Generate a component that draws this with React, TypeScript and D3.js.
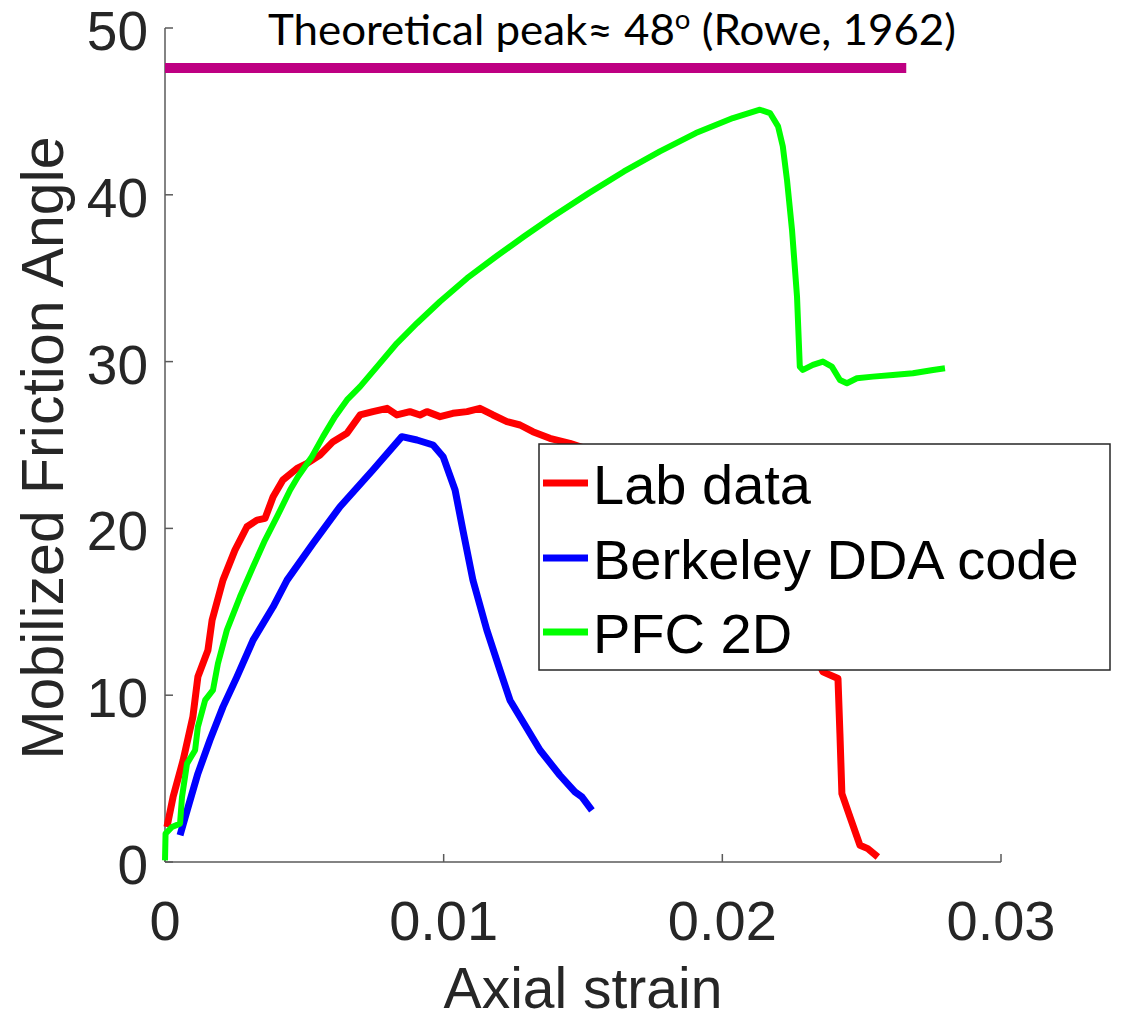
import React from "react";
import * as d3 from "d3";

const xTicks = [0, 0.01, 0.02, 0.03];
const xTickLabels = ["0", "0.01", "0.02", "0.03"];
const yTicks = [0, 10, 20, 30, 40, 50];
const yTickLabels = ["0", "10", "20", "30", "40", "50"];

const seriesNames = ["Lab data", "Berkeley DDA code", "PFC 2D"];
const seriesColors = ["#ff0000", "#0000ff", "#00ff00"];

const labStrain = [0.00007, 0.00029, 0.00065, 0.001, 0.00118, 0.00154, 0.00169, 0.00208, 0.00251, 0.00294, 0.0033, 0.00359, 0.00388, 0.00423, 0.00474, 0.0051, 0.00556, 0.00603, 0.00653, 0.007, 0.00746, 0.00797, 0.00832, 0.00879, 0.00915, 0.0094, 0.00987, 0.01033, 0.01084, 0.0113, 0.01177, 0.01227, 0.01274, 0.0132, 0.01381, 0.01453, 0.0165, 0.0185, 0.0205, 0.0225, 0.0233, 0.02361, 0.02415, 0.02422, 0.02429, 0.02458, 0.02494, 0.02522, 0.02558];
const labAngle = [2.1, 3.9, 6.1, 8.7, 11.1, 12.7, 14.5, 16.9, 18.7, 20.1, 20.5, 20.6, 21.9, 22.9, 23.6, 23.9, 24.4, 25.2, 25.7, 26.8, 27.0, 27.2, 26.8, 27.0, 26.8, 27.0, 26.7, 26.9, 27.0, 27.2, 26.8, 26.4, 26.2, 25.8, 25.4, 25.1, 24.0, 22.0, 19.0, 15.0, 12.5, 11.4, 11.0, 7.7, 4.1, 2.7, 1.0, 0.8, 0.3];

const ddaStrain = [0.00054, 0.00083, 0.00118, 0.00161, 0.00208, 0.00258, 0.00316, 0.00388, 0.00438, 0.00531, 0.00628, 0.00746, 0.0085, 0.00904, 0.00962, 0.00998, 0.01041, 0.01069, 0.01105, 0.01155, 0.01202, 0.01238, 0.01292, 0.01346, 0.01417, 0.01471, 0.01496, 0.01532];
const ddaAngle = [1.6, 3.3, 5.3, 7.3, 9.3, 11.1, 13.3, 15.3, 16.9, 19.1, 21.3, 23.5, 25.5, 25.3, 25.0, 24.3, 22.3, 19.9, 16.9, 13.9, 11.5, 9.7, 8.2, 6.7, 5.2, 4.2, 3.9, 3.1];

const pfcStrain = [0, 0.00002, 0.00025, 0.00054, 0.00061, 0.00079, 0.00108, 0.00118, 0.00144, 0.00172, 0.0019, 0.00222, 0.00269, 0.00316, 0.00359, 0.00402, 0.00449, 0.00477, 0.00527, 0.00567, 0.0061, 0.00653, 0.007, 0.00761, 0.00832, 0.00904, 0.00987, 0.01084, 0.01188, 0.01288, 0.01392, 0.01521, 0.01647, 0.01776, 0.01905, 0.02038, 0.02135, 0.02171, 0.022, 0.02217, 0.02232, 0.0225, 0.02268, 0.02278, 0.02289, 0.02325, 0.02361, 0.02393, 0.02422, 0.02447, 0.02483, 0.0254, 0.02612, 0.02684, 0.02756, 0.02799];
const pfcAngle = [0.1, 1.7, 2.1, 2.3, 3.9, 5.9, 6.7, 8.1, 9.7, 10.3, 11.9, 13.9, 15.9, 17.7, 19.3, 20.7, 22.3, 23.1, 24.3, 25.5, 26.7, 27.7, 28.5, 29.7, 31.1, 32.3, 33.6, 35.0, 36.3, 37.5, 38.7, 40.1, 41.4, 42.6, 43.7, 44.6, 45.1, 44.9, 44.1, 42.9, 40.9, 37.9, 33.9, 29.7, 29.5, 29.8, 30.0, 29.7, 28.9, 28.7, 29.0, 29.1, 29.2, 29.3, 29.5, 29.6];

const peakStrain = [0, 0.0266];
const peakAngle = [47.6, 47.6];
const peakColor = "#be0082";

const xDomain = [0, 0.03];
const yDomain = [0, 50];

export default function App() {
  const x = d3.scaleLinear().domain(xDomain).range([165, 1001]);
  const y = d3.scaleLinear().domain(yDomain).range([862, 28]);
  const line = d3
    .line<[number, number]>()
    .x((d) => x(d[0]))
    .y((d) => y(d[1]));

  const zip = (a: number[], b: number[]) => a.map((v, i) => [v, b[i]] as [number, number]);
  const series = [zip(labStrain, labAngle), zip(ddaStrain, ddaAngle), zip(pfcStrain, pfcAngle)];
  const widths = [7, 7, 6];

  const axisColor = "#5a5a5a";
  const textColor = "#262626";
  const sans = "'Liberation Sans', Arial, sans-serif";

  const legendX = 539;
  const legendY = 444;
  const legendRows = [483, 558, 632];

  return (
    <svg
      width={1122}
      height={1021}
      style={{ position: "absolute", left: 0, top: 0, background: "#fff" }}
    >
      <rect x={0} y={0} width={1122} height={1021} fill="#fff" />
      {/* axes */}
      <line x1={x(0)} x2={x(0.03)} y1={y(0)} y2={y(0)} stroke={axisColor} strokeWidth={1.5} />
      <line x1={x(0)} x2={x(0)} y1={y(0)} y2={y(50)} stroke={axisColor} strokeWidth={1.5} />
      {xTicks.map((t, i) => (
        <g key={"xt" + i}>
          <line x1={x(t)} x2={x(t)} y1={y(0)} y2={y(0) - 8} stroke={axisColor} strokeWidth={1.5} />
          <text
            x={x(t)}
            y={940}
            textAnchor="middle"
            fontFamily={sans}
            fontSize={56}
            fill={textColor}
          >
            {xTickLabels[i]}
          </text>
        </g>
      ))}
      {yTicks.map((t, i) => (
        <g key={"yt" + i}>
          <line x1={x(0)} x2={x(0) + 8} y1={y(t)} y2={y(t)} stroke={axisColor} strokeWidth={1.5} />
          <text
            x={148}
            y={y(t) + 22}
            textAnchor="end"
            fontFamily={sans}
            fontSize={55}
            fill={textColor}
          >
            {yTickLabels[i]}
          </text>
        </g>
      ))}
      <text
        x={583}
        y={1008}
        textAnchor="middle"
        fontFamily={sans}
        fontSize={57}
        fill={textColor}
      >
        Axial strain
      </text>
      <text
        transform={`translate(63,448) rotate(-90)`}
        textAnchor="middle"
        fontFamily={sans}
        fontSize={59}
        fill={textColor}
      >
        Mobilized Friction Angle
      </text>

      {/* theoretical peak */}
      <path
        d={line(zip(peakStrain, peakAngle)) || ""}
        stroke={peakColor}
        strokeWidth={10}
        fill="none"
      />
      <text
        x={268}
        y={45}
        fontFamily="Lato, 'Open Sans', sans-serif"
        fontSize={43}
        fill="#000"
        textLength={688}
        lengthAdjust="spacingAndGlyphs"
      >
        Theoretical peak≈ 48
        <tspan fontSize={27} dy={-16}>o</tspan>
        <tspan dy={16}> (Rowe, 1962)</tspan>
      </text>

      {/* series */}
      {series.map((s, i) => (
        <path
          key={"s" + i}
          d={line(s) || ""}
          stroke={seriesColors[i]}
          strokeWidth={widths[i]}
          fill="none"
          strokeLinejoin="round"
          strokeLinecap="butt"
        />
      ))}

      {/* legend */}
      <rect
        x={legendX}
        y={legendY}
        width={571}
        height={226}
        fill="#fff"
        stroke={textColor}
        strokeWidth={1.5}
      />
      {seriesNames.map((n, i) => (
        <g key={"lg" + i}>
          <line
            x1={543}
            x2={588}
            y1={legendRows[i]}
            y2={legendRows[i]}
            stroke={seriesColors[i]}
            strokeWidth={7}
          />
          <text
            x={593}
            y={legendRows[i] + 21}
            fontFamily={sans}
            fontSize={56}
            fill="#000"
          >
            {n}
          </text>
        </g>
      ))}
    </svg>
  );
}
